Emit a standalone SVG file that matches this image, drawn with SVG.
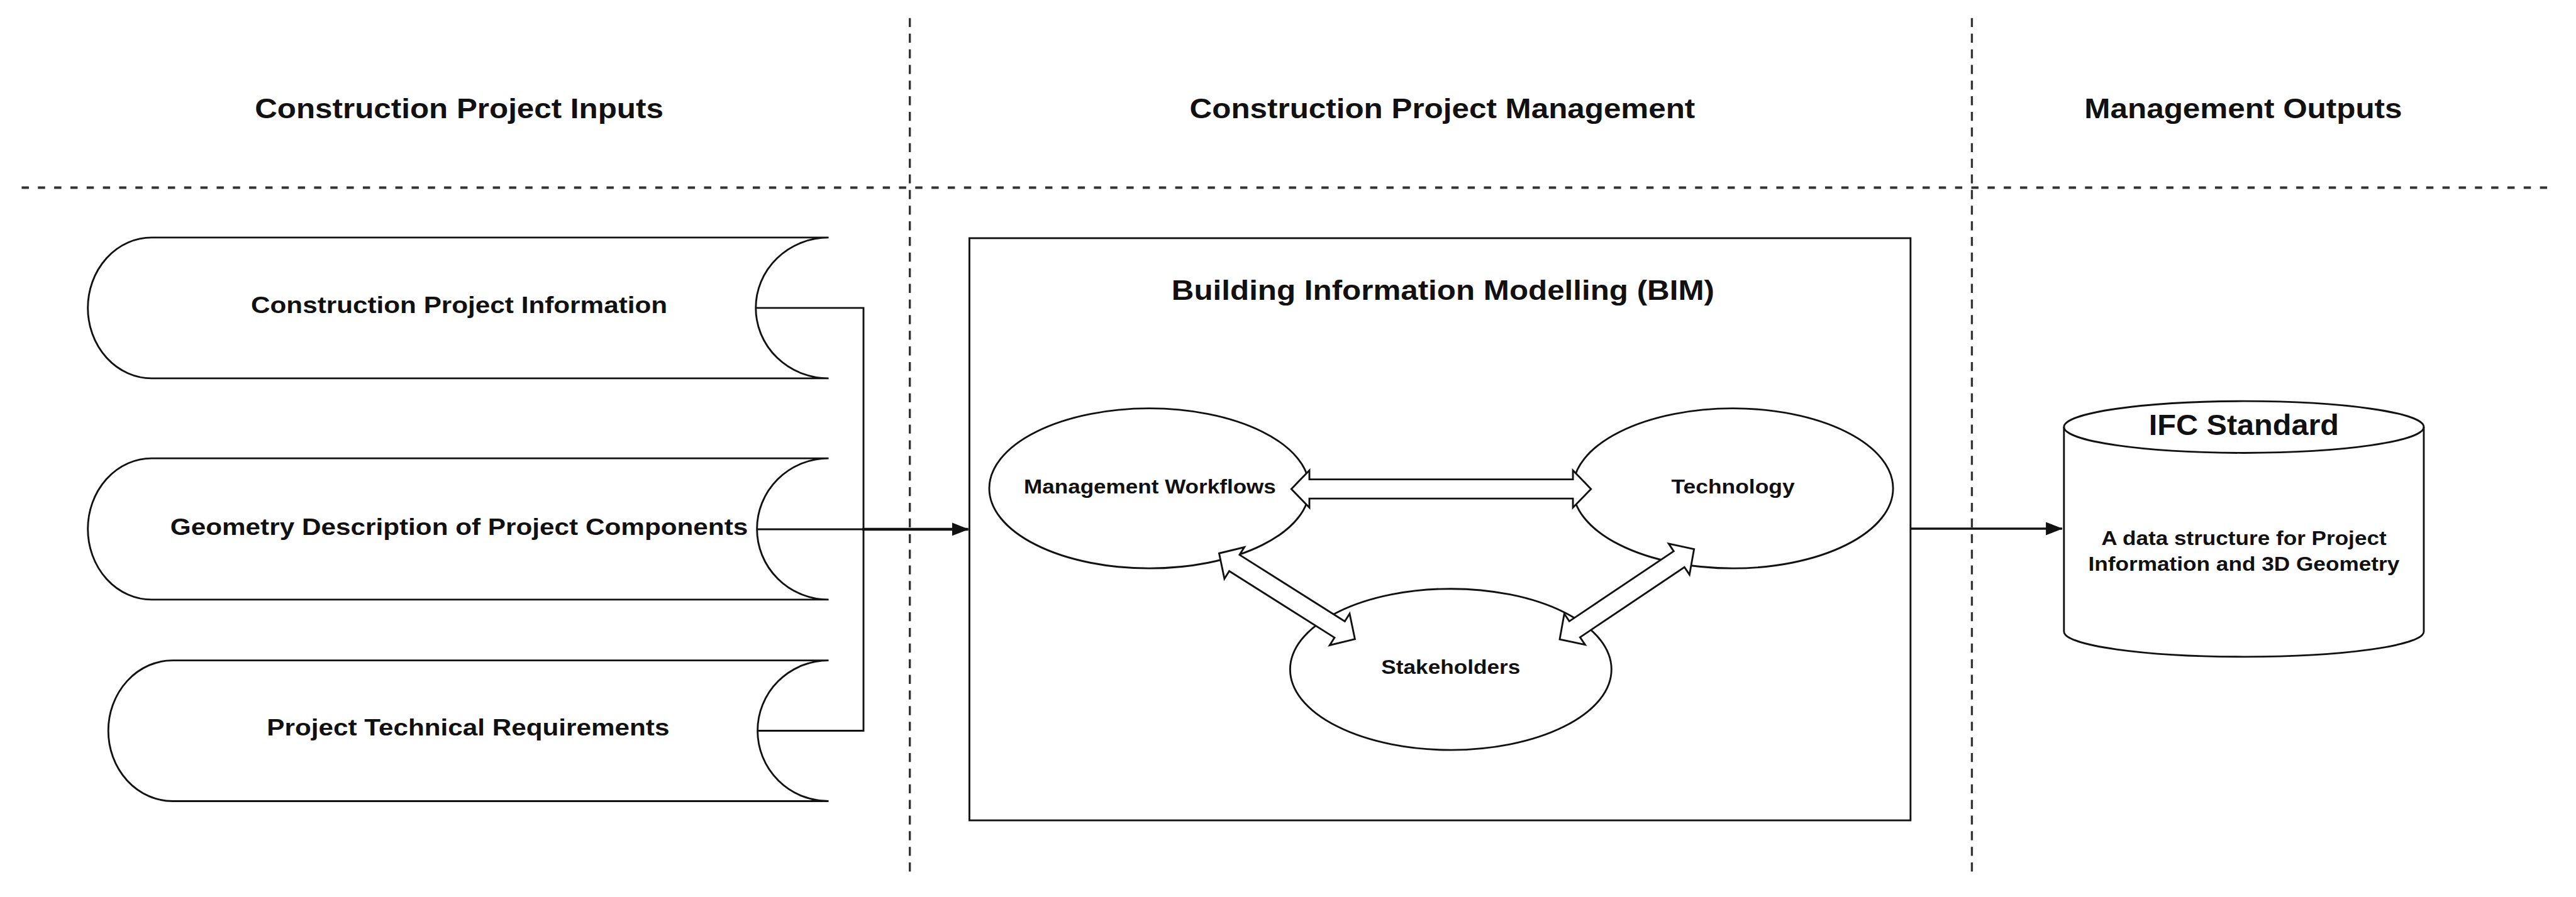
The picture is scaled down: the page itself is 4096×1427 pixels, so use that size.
<svg xmlns="http://www.w3.org/2000/svg" width="4096" height="1427" viewBox="0 0 4096 1427">
<style>
.bg{fill:#fff}
.lane-h{stroke:#333;stroke-width:4;stroke-dasharray:12 15;fill:none}
.lane-v{stroke:#333;stroke-width:3.5;stroke-dasharray:15 11;fill:none}
.shape{fill:#fff;stroke:#111;stroke-width:3}
.line{fill:none;stroke:#111;stroke-width:3}
.thick{fill:none;stroke:#111;stroke-width:4.5}
.block{fill:#fff;stroke:#111;stroke-width:3;stroke-linejoin:miter}
text{font-family:"Liberation Sans",Arial,Helvetica,sans-serif;font-weight:bold;fill:#111;text-anchor:middle}
.hdr{font-size:46px}
.box{font-size:39px}
.ell{font-size:33px}
.ifc{font-size:48px}
</style>
<defs>
<marker id="arrow" markerUnits="userSpaceOnUse" viewBox="0 0 28 22" refX="27" refY="11" markerWidth="28" markerHeight="22" orient="auto">
<path d="M0,0 L28,11 L0,22 Z" fill="#111"/>
</marker>
</defs>
<rect class="bg" x="0" y="0" width="4096" height="1427"/>
<g transform="scale(0.9568)">
<g id="lanes">
<line class="lane-h" x1="36" y1="312" x2="4243" y2="312"/>
<line class="lane-v" x1="1512" y1="30" x2="1512" y2="1460"/>
<line class="lane-v" x1="3277" y1="30" x2="3277" y2="1460"/>
</g>
<g id="headers">
<text class="hdr" x="763" y="197" textLength="679" lengthAdjust="spacingAndGlyphs">Construction Project Inputs</text>
<text class="hdr" x="2397" y="197" textLength="840" lengthAdjust="spacingAndGlyphs">Construction Project Management</text>
<text class="hdr" x="3728" y="197" textLength="528" lengthAdjust="spacingAndGlyphs">Management Outputs</text>
</g>
<g id="input-project-information">
<path class="shape" d="M252,395 L1377,395 A121,117 0 0 0 1256,512 A121,117 0 0 0 1377,629 L252,629 A106,117 0 0 1 146,512 A106,117 0 0 1 252,395 Z"/>
<text class="box" x="763" y="520" textLength="692" lengthAdjust="spacingAndGlyphs">Construction Project Information</text>
</g>
<g id="input-geometry">
<path class="shape" d="M252,762 L1377,762 A119,117.5 0 0 0 1258,879.5 A119,117.5 0 0 0 1377,997 L252,997 A106,117.5 0 0 1 146,879.5 A106,117.5 0 0 1 252,762 Z"/>
<text class="box" x="763" y="889" textLength="960" lengthAdjust="spacingAndGlyphs">Geometry Description of Project Components</text>
</g>
<g id="input-technical-requirements">
<path class="shape" d="M287,1098 L1377,1098 A118,117 0 0 0 1259,1215 A118,117 0 0 0 1377,1332 L287,1332 A107,117 0 0 1 180,1215 A107,117 0 0 1 287,1098 Z"/>
<text class="box" x="778" y="1223" textLength="669" lengthAdjust="spacingAndGlyphs">Project Technical Requirements</text>
</g>
<g id="bim">
<rect class="shape" x="1611" y="396" width="1564" height="968"/>
<text class="hdr" x="2398" y="499" textLength="902" lengthAdjust="spacingAndGlyphs">Building Information Modelling (BIM)</text>
</g>
<g id="management-workflows">
<ellipse class="shape" cx="1910" cy="812" rx="266" ry="133"/>
<text class="ell" x="1911" y="820" textLength="419" lengthAdjust="spacingAndGlyphs">Management Workflows</text>
</g>
<g id="technology">
<ellipse class="shape" cx="2880" cy="812" rx="266" ry="133"/>
<text class="ell" x="2880" y="820" textLength="205" lengthAdjust="spacingAndGlyphs">Technology</text>
</g>
<g id="stakeholders">
<ellipse class="shape" cx="2411" cy="1113" rx="267" ry="134"/>
<text class="ell" x="2411" y="1120" textLength="231" lengthAdjust="spacingAndGlyphs">Stakeholders</text>
</g>
<g id="ifc-standard">
<path class="shape" d="M3430,710 L3430,1050 A299,42 0 0 0 4028,1050 L4028,710 A299,43 0 0 0 3430,710 Z"/>
<path class="line" d="M3430,710 A299,43 0 0 0 4028,710"/>
<text class="ifc" x="3729" y="723" textLength="316" lengthAdjust="spacingAndGlyphs">IFC Standard</text>
<text class="ell" x="3729" y="906" textLength="474" lengthAdjust="spacingAndGlyphs">A data structure for Project</text>
<text class="ell" x="3729" y="949" textLength="517" lengthAdjust="spacingAndGlyphs">Information and 3D Geometry</text>
</g>
<g id="connectors">
<path class="line" d="M1256,512 H1435 V1215 H1259"/>
<path class="line" d="M1258,880 H1435"/>
<path class="thick" d="M1433,880 H1609" marker-end="url(#arrow)"/>
<path class="line" style="stroke-width:3.5" d="M3175,879 H3427" marker-end="url(#arrow)"/>
<path class="block" transform="translate(2146,813)" d="M0,0 L30,-31 L30,-16 L468,-16 L468,-31 L498,0 L468,31 L468,16 L30,16 L30,31 Z"/>
<path class="block" transform="translate(2026,920) rotate(32.3)" d="M0,0 L30,-31 L30,-16 L237,-16 L237,-31 L267,0 L237,31 L237,16 L30,16 L30,31 Z"/>
<path class="block" transform="translate(2592,1063) rotate(-33.9)" d="M0,0 L30,-31 L30,-16 L239,-16 L239,-31 L269,0 L239,31 L239,16 L30,16 L30,31 Z"/>
</g>
</g>
</svg>
